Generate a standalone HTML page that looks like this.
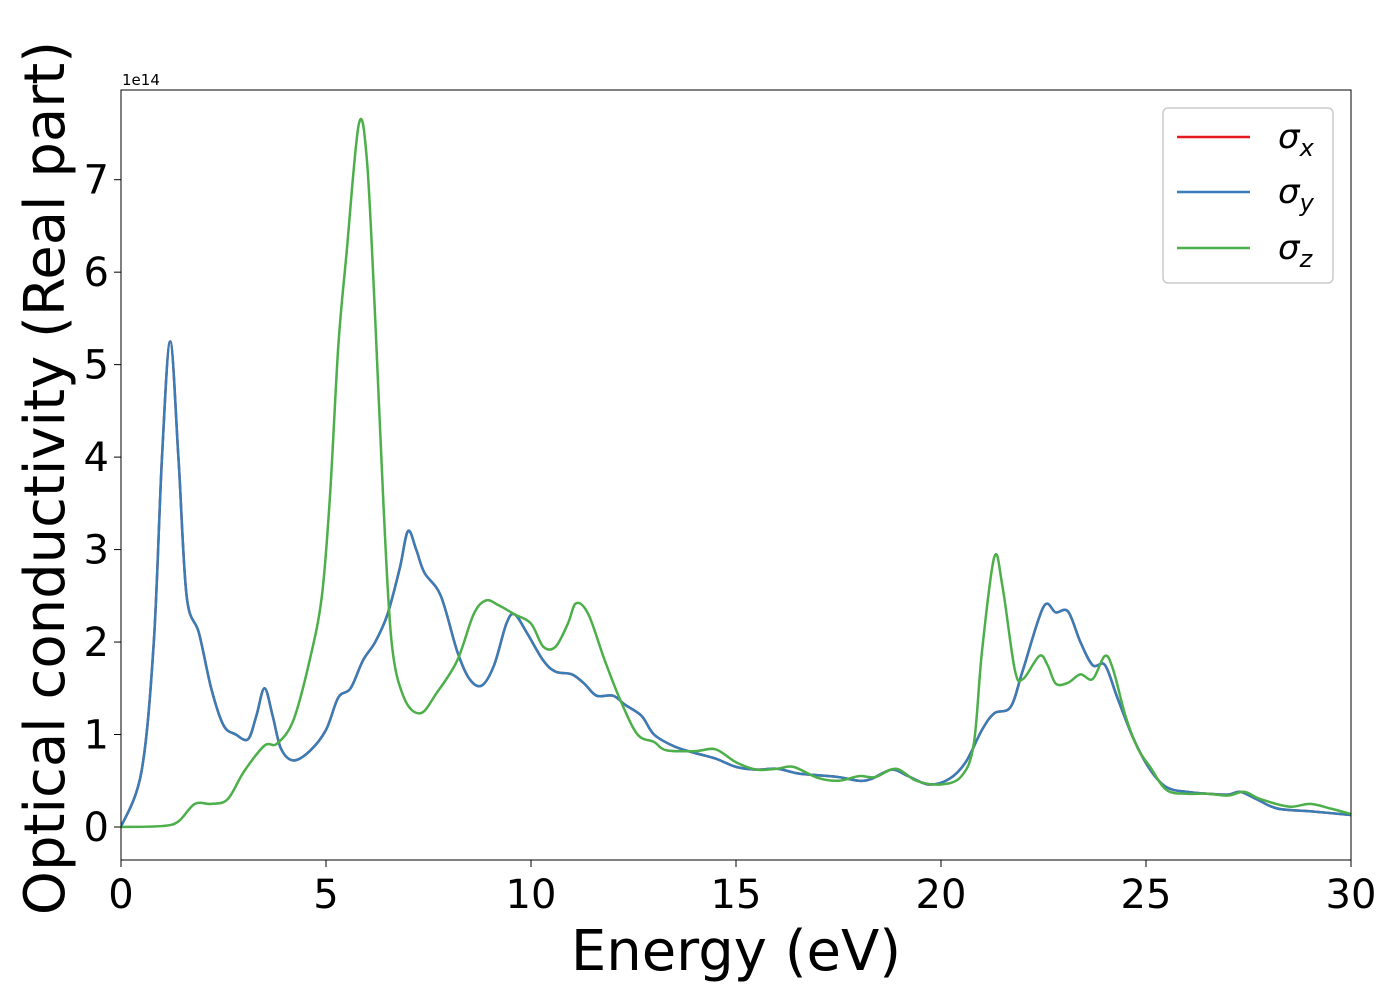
<!DOCTYPE html>
<html><head><meta charset="utf-8"><style>
body{margin:0;background:#fff;}
svg text{font-family:"DejaVu Sans","Liberation Sans",sans-serif;}
</style></head><body>
<svg width="1400" height="1000" viewBox="0 0 1400 1000">
<rect x="0" y="0" width="1400" height="1000" fill="#fff"/>
<g id="plot"></g>
<g id="axes"></g>
</svg>
<script>
const energyBlue=[0,0.5,0.8,1.0,1.2,1.4,1.6,1.9,2.2,2.5,2.8,3.1,3.3,3.5,3.7,3.9,4.2,4.6,5.0,5.3,5.6,5.9,6.2,6.5,6.8,7.0,7.2,7.4,7.8,8.2,8.5,8.8,9.1,9.4,9.6,9.9,10.3,10.6,11.0,11.3,11.6,12.0,12.3,12.7,13.0,13.5,14.0,14.5,15.0,15.5,16.0,16.5,17.0,17.5,18.0,18.3,18.8,19.2,19.7,20.2,20.6,21.0,21.3,21.7,22.0,22.5,22.8,23.1,23.4,23.7,24.0,24.3,24.7,25.1,25.5,26.0,26.5,27.0,27.3,27.7,28.2,29.0,30.0];
const sigmaXY=[0,0.6,2,4,5.25,4,2.5,2.1,1.5,1.1,1.0,0.95,1.2,1.5,1.2,0.85,0.72,0.82,1.05,1.4,1.5,1.8,2.0,2.3,2.8,3.2,3.0,2.75,2.5,1.9,1.6,1.53,1.75,2.2,2.3,2.1,1.8,1.68,1.65,1.55,1.42,1.42,1.32,1.2,1.0,0.87,0.8,0.74,0.65,0.62,0.63,0.58,0.56,0.54,0.5,0.52,0.62,0.55,0.46,0.52,0.7,1.05,1.23,1.3,1.7,2.38,2.32,2.33,2.0,1.75,1.75,1.4,0.95,0.62,0.43,0.38,0.36,0.35,0.38,0.3,0.2,0.17,0.13];
const energyGreen=[0,1.0,1.4,1.8,2.2,2.6,3.0,3.5,3.8,4.2,4.6,4.9,5.1,5.3,5.5,5.8,6.0,6.2,6.4,6.6,6.9,7.3,7.7,8.2,8.6,8.9,9.2,9.6,10.0,10.3,10.6,10.9,11.1,11.4,11.8,12.2,12.6,13.0,13.3,14.0,14.5,15.0,15.5,16.0,16.4,17.0,17.5,18.0,18.4,18.9,19.4,20.0,20.5,20.8,21.0,21.3,21.5,21.8,22.0,22.4,22.6,22.8,23.1,23.4,23.7,24.0,24.2,24.5,24.8,25.1,25.5,26.0,26.5,27.0,27.4,27.8,28.5,29.0,29.5,30];
const sigmaZ=[0,0.01,0.06,0.25,0.25,0.3,0.6,0.88,0.9,1.15,1.8,2.5,3.6,5.2,6.2,7.6,7.2,5.5,3.5,2.0,1.4,1.23,1.45,1.8,2.3,2.45,2.4,2.3,2.2,1.95,1.95,2.2,2.42,2.3,1.8,1.35,1.0,0.92,0.83,0.82,0.84,0.7,0.62,0.63,0.65,0.53,0.5,0.55,0.54,0.63,0.5,0.46,0.55,0.9,1.9,2.92,2.6,1.7,1.6,1.85,1.75,1.55,1.56,1.65,1.6,1.85,1.7,1.2,0.85,0.65,0.4,0.36,0.36,0.34,0.38,0.3,0.22,0.25,0.2,0.14];
const xTicks=[0,5,10,15,20,25,30];
const yTicks=[0,1,2,3,4,5,6,7];

const X0=121,X1=1351,Y0=90,Y1=860,XMIN=0,XMAX=30,YMIN=-0.357,YMAX=7.97;
const sx=v=>X0+(v-XMIN)/(XMAX-XMIN)*(X1-X0);
const sy=v=>Y1-(v-YMIN)/(YMAX-YMIN)*(Y1-Y0);
const NS="http://www.w3.org/2000/svg";
const plot=document.getElementById('plot'),axes=document.getElementById('axes');
function mk(tag,attrs,parent){const e=document.createElementNS(NS,tag);for(const k in attrs)e.setAttribute(k,attrs[k]);parent.appendChild(e);return e;}
function pathD(xs,ys){const p=xs.map((x,i)=>[sx(x),sy(ys[i])]);let d="M"+p[0][0]+","+p[0][1];
for(let i=0;i<p.length-1;i++){const a=p[i-1]||p[i],b=p[i],c=p[i+1],e=p[i+2]||c;
const c1=[b[0]+(c[0]-a[0])/6,b[1]+(c[1]-a[1])/6],c2=[c[0]-(e[0]-b[0])/6,c[1]-(e[1]-b[1])/6];
d+=" C"+c1[0]+","+c1[1]+" "+c2[0]+","+c2[1]+" "+c[0]+","+c[1];}return d;}
const clip=mk('clipPath',{id:'cp'},plot);mk('rect',{x:X0,y:Y0,width:X1-X0,height:Y1-Y0},clip);
let l=mk('path',{d:pathD(energyBlue,sigmaXY),fill:'none',stroke:'#e41a1c','stroke-width':2.5,'clip-path':'url(#cp)'},plot);

l=mk('path',{d:pathD(energyBlue,sigmaXY),fill:'none',stroke:'#377eb8','stroke-width':2.5,'clip-path':'url(#cp)'},plot);

l=mk('path',{d:pathD(energyGreen,sigmaZ),fill:'none',stroke:'#4daf4a','stroke-width':2.5,'clip-path':'url(#cp)'},plot);

let f=mk('rect',{x:X0,y:Y0,width:X1-X0,height:Y1-Y0,fill:'none',stroke:'#000','stroke-width':1},axes);

xTicks.forEach(t=>{mk('line',{x1:sx(t),x2:sx(t),y1:Y1,y2:Y1+7,stroke:'#000','stroke-width':1},axes);
const tx=mk('text',{x:sx(t),y:Y1+48,'font-size':40,'text-anchor':'middle'},axes);tx.textContent=t;
});
yTicks.forEach(t=>{mk('line',{x1:X0-7,x2:X0,y1:sy(t),y2:sy(t),stroke:'#000','stroke-width':1},axes);
const tx=mk('text',{x:X0-12,y:sy(t)+14,'font-size':40,'text-anchor':'end'},axes);tx.textContent=t;
});
</script>
<svg style="position:absolute;left:0;top:0" width="1400" height="1000">
<text x="122" y="85" font-size="15" font-family="DejaVu Sans,sans-serif">1e14</text>
<text x="736" y="970" font-size="56" text-anchor="middle" font-family="DejaVu Sans,sans-serif">Energy (eV)</text>
<text transform="translate(64,478) rotate(-90)" font-size="56" text-anchor="middle" font-family="DejaVu Sans,sans-serif">Optical conductivity (Real part)</text>
<g>
<rect x="1163" y="108" width="170" height="175" rx="5" fill="#fff" stroke="#ccc" stroke-width="1.5"/>
<g><line x1="1177" y1="137" x2="1250" y2="137" stroke="#e41a1c" stroke-width="2.5"/><text x="1278" y="148" font-size="34" font-style="italic" font-family="DejaVu Serif,serif">σ<tspan font-size="24" dy="8">x</tspan></text></g>
<g><line x1="1177" y1="192" x2="1250" y2="192" stroke="#377eb8" stroke-width="2.5"/><text x="1278" y="203" font-size="34" font-style="italic" font-family="DejaVu Serif,serif">σ<tspan font-size="24" dy="8">y</tspan></text></g>
<g><line x1="1177" y1="248" x2="1250" y2="248" stroke="#4daf4a" stroke-width="2.5"/><text x="1278" y="259" font-size="34" font-style="italic" font-family="DejaVu Serif,serif">σ<tspan font-size="24" dy="8">z</tspan></text></g>
</g>
</svg>
</body></html>
